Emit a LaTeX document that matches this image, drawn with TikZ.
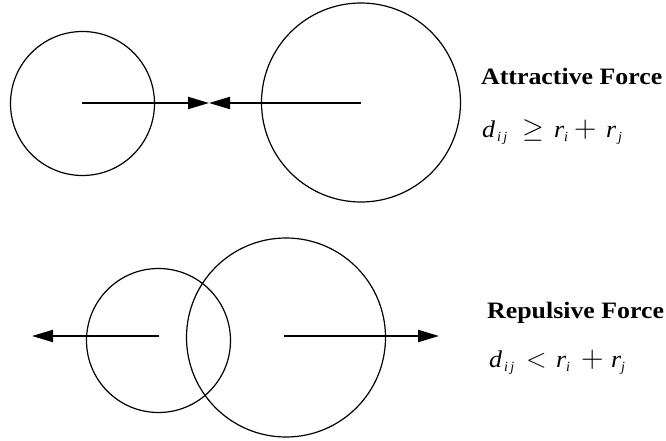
\documentclass[tikz,border=0pt]{standalone}
\usepackage{fontspec}
\setmainfont{Liberation Serif}
\usetikzlibrary{arrows.meta}
\tikzset{
  ring/.style={draw, circle, line width=1.2pt, inner sep=0pt, outer sep=0pt},
  force/.style={line width=2pt, -{Triangle[length=21pt,width=12pt]}},
  title/.style={anchor=base west, inner sep=0pt, font=\bfseries\fontsize{23.5}{23.5}\selectfont},
  formula/.style={anchor=base west, inner sep=0pt, font=\fontsize{22}{22}\selectfont}
}
\newcommand{\sbx}[1]{\raisebox{-4pt}{\fontsize{14}{14}\selectfont\itshape #1}}
\newcommand{\lt}[1]{{\fontsize{24}{24}\selectfont\scalebox{1.08}[1]{\itshape #1}}}
\newcommand{\pc}[2]{\makebox[#1pt][l]{#2}}
\newcommand{\bigop}[2]{\scalebox{#1}{$#2$}}
\begin{document}
\begin{tikzpicture}[x=1pt,y=-1pt]
\useasboundingbox (0,0) rectangle (666,441);
% top
\node[ring, minimum size=144pt] (a1) at (82.5,103.5) {};
\node[ring, minimum size=199pt] (a2) at (361,102.5) {};
\coordinate (am) at (209,103);
\coordinate (a1s) at (82,103);
\coordinate (a2s) at (361,103);
\draw[force] (a1s) -- (am);
\draw[force] (a2s) -- (am);
\node[title] (t1) at (481,85) {\scalebox{1.1}[1]{Attractive Force}};
\node[formula] (f1) at (482,138) {\pc{15}{\lt{d}}\pc{25}{\sbx{i\,j}}\pc{32}{\bigop{1.35}{\geq}}\pc{10}{\lt{r}}\pc{10}{\sbx{i}}\pc{32}{\bigop{1.5}{+}}\pc{12}{\lt{r}}\sbx{j}};
% bottom
\node[ring, minimum size=144pt] (b1) at (158.5,340.5) {};
\node[ring, minimum size=199pt] (b2) at (286,337.5) {};
\coordinate (b1s) at (159,336);
\coordinate (b1e) at (32,336);
\coordinate (b2s) at (284,336);
\coordinate (b2e) at (439,336);
\draw[force] (b1s) -- (b1e);
\draw[force] (b2s) -- (b2e);
\node[title] (t2) at (487,318) {\scalebox{1.1}[1]{Repulsive Force}};
\node[formula] (f2) at (489,367) {\pc{15}{\lt{d}}\pc{22}{\sbx{i\,j}}\pc{30}{\bigop{1.3}{<}}\pc{10}{\lt{r}}\pc{15}{\sbx{i}}\pc{30}{\bigop{1.5}{+}}\pc{10}{\lt{r}}\sbx{j}};
\end{tikzpicture}
\end{document}
